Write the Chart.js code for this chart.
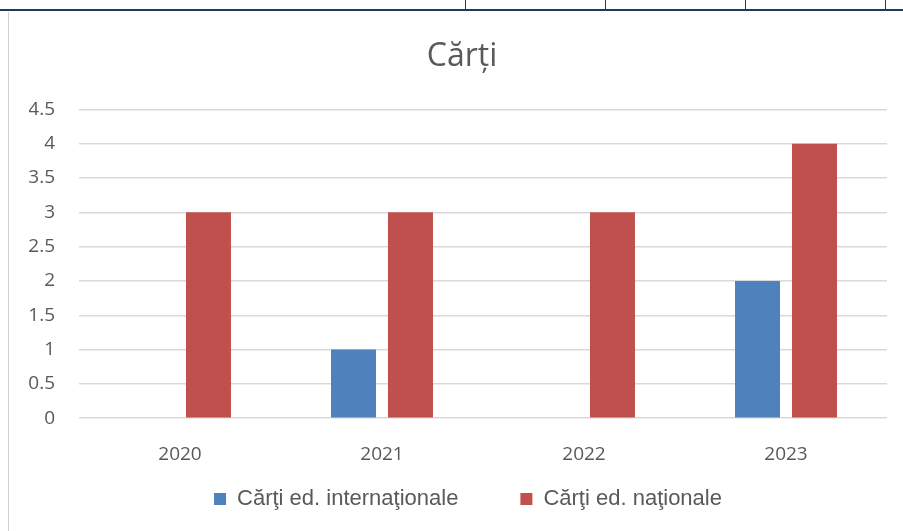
<!DOCTYPE html>
<html>
<head>
<meta charset="utf-8">
<script src="https://cdn.jsdelivr.net/npm/chart.js@4/dist/chart.umd.min.js"></script>
<style>
	html, body { margin: 0; padding: 0; background: #fff; }
	body { width: 903px; height: 531px; position: relative; overflow: hidden; }
	/* fragment of the table above the chart */
	#tableStrip { position: absolute; left: 0; top: 0; width: 903px; height: 9px; border-bottom: 2px solid #1f3a5f; }
	#tableStrip div { position: absolute; top: 0; height: 9px; border-left: 1px solid #1f3a5f; }
	#chartBox { position: absolute; left: 8px; top: 12px; width: 895px; height: 519px; border-left: 1px solid #d0d0d0; box-sizing: border-box; }
</style>
</head>
<body>
<div id="tableStrip">
	<div style="left:465px"></div>
	<div style="left:605px"></div>
	<div style="left:745px"></div>
	<div style="left:885px"></div>
</div>
<div id="chartBox"><canvas id="cartiChart"></canvas></div>
<script>
// setup block
const years = ['2020', '2021', '2022', '2023'];
const internationale = [0, 1, 0, 2];
const nationale = [3, 3, 3, 4];

const data = {
	labels: years,
	datasets: [
		{
			label: 'Cărţi ed. internaţionale',
			data: internationale,
			backgroundColor: '#4f81bd',
		},
		{
			label: 'Cărţi ed. naţionale',
			data: nationale,
			backgroundColor: '#c0504d',
		},
	],
};

// the legend keeps a wide gap between items (its padding),
// so pull it back up under the axis labels after layout;
// title and legend sit a little right of the canvas centre
const legendShift = {
	id: 'legendShift',
	afterLayout(chart) {
		chart.legend.top -= 57;
		chart.legend.bottom -= 57;
		chart.legend.left += 10;
		chart.legend.right += 10;
		chart.titleBlock.left += 4;
		chart.titleBlock.right += 4;
	},
};

// config block
const config = {
	type: 'bar',
	data: data,
	plugins: [legendShift],
	options: {
		responsive: true,
		maintainAspectRatio: false,
		animation: false,
		datasets: {
			bar: {
				categoryPercentage: 0.564,
				barPercentage: 0.79,
			},
		},
		layout: {
			padding: { left: 20, right: 16, top: 12, bottom: -46 },
		},
		plugins: {
			title: {
				display: true,
				text: 'Cărți',
				color: '#595959',
				font: { family: 'Open Sans', size: 32, weight: 'normal' },
				padding: { top: 14, bottom: 33 },
			},
			legend: {
				position: 'bottom',
				labels: {
					color: '#595959',
					boxWidth: 12,
					boxHeight: 12,
					padding: 62,
					font: { family: 'Liberation Sans', size: 22 },
				},
			},
			tooltip: { enabled: false },
		},
		scales: {
			x: {
				grid: { display: false },
				border: { display: false },
				ticks: {
					color: '#595959',
					padding: 17,
					font: { family: 'Open Sans', size: 19 },
				},
			},
			y: {
				min: 0,
				max: 4.5,
				border: { display: false },
				grid: { color: '#d9d9d9', lineWidth: 1.5, drawTicks: false },
				ticks: {
					stepSize: 0.5,
					color: '#595959',
					padding: 24,
					font: { family: 'Open Sans', size: 19 },
					callback: (value) => String(value),
				},
				afterFit: (scale) => {
					scale.width = 50;
				},
			},
		},
	},
};

// render block
const cartiChart = new Chart(document.getElementById('cartiChart'), config);
</script>
</body>
</html>
